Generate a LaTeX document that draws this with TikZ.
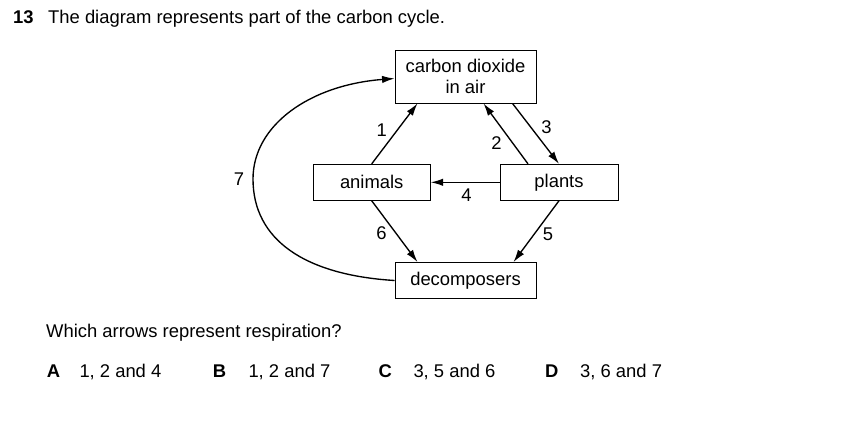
\documentclass[tikz,border=0pt]{standalone}
\usepackage{fontspec}
\setmainfont{Liberation Sans}
\usetikzlibrary{arrows.meta,calc}

\begin{document}
\begin{tikzpicture}[x=1pt,y=-1pt,font=\fontsize{18.4}{21.6}\selectfont,
  box/.style={draw,line width=0.9pt,inner sep=0pt,align=center,minimum height=36pt},
  arr/.style={line width=1.35pt,-{Latex[length=12.5pt,width=7.5pt]}},
  txt/.style={anchor=base west,inner sep=0pt},
  bold/.style={txt,font=\fontsize{18.4}{21.6}\selectfont\bfseries}]
\useasboundingbox (0,0) rectangle (852,426);
% question text
\node[bold] (qnum) at (13,23) {13};\node[txt] (qtext) at (48,23) {The diagram represents part of the carbon cycle.};
% boxes of the cycle
\node[box,minimum width=141pt,minimum height=53pt] (co2) at (465.5,76.5) {carbon dioxide\\in air};
\node[box,minimum width=117pt] (animals) at (371.7,182.3) {animals};
\node[box,minimum width=118pt] (plants) at (559,182.3) {plants};
\node[box,minimum width=141pt] (decomp) at (465.5,280.5) {decomposers};
% arrows
\draw[arr] (animals.north) -- ($(co2.south)+(-48,0)$);\node (n1) at (381.7,130) {1};
\draw[arr] ($(plants.north)+(-31,0)$) -- ($(co2.south)+(18,0)$);\node (n2) at (496.5,143) {2};
\draw[arr] ($(co2.south)+(47,0)$) -- (plants.north);\node (n3) at (546.5,127.5) {3};
\draw[arr] (plants.west) -- (animals.east);\node (n4) at (466.5,195) {4};
\draw[arr] (plants.south) -- ($(decomp.north)+(48,0)$);\node (n5) at (548,234) {5};
\draw[arr] (animals.south) -- ($(decomp.north)+(-48,0)$);\node (n6) at (381.5,233) {6};
\draw[arr] (decomp.west) .. controls (305,275) and (253,240) .. (253,179) .. controls (253,125) and (310,85) .. ($(co2.west)+(0,2)$);
\node (n7) at (239,179) {7};
% answer options
\node[txt] (ask) at (46,337.5) {Which arrows represent respiration?};
\node[bold] (optA) at (46.7,377) {A};\node[txt] (ansA) at (79.3,377) {1, 2 and 4};
\node[bold] (optB) at (212.7,377) {B};\node[txt] (ansB) at (248.3,377) {1, 2 and 7};
\node[bold] (optC) at (378.3,377) {C};\node[txt] (ansC) at (413.3,377) {3, 5 and 6};
\node[bold] (optD) at (545,377) {D};\node[txt] (ansD) at (580,377) {3, 6 and 7};
\end{tikzpicture}
\end{document}
